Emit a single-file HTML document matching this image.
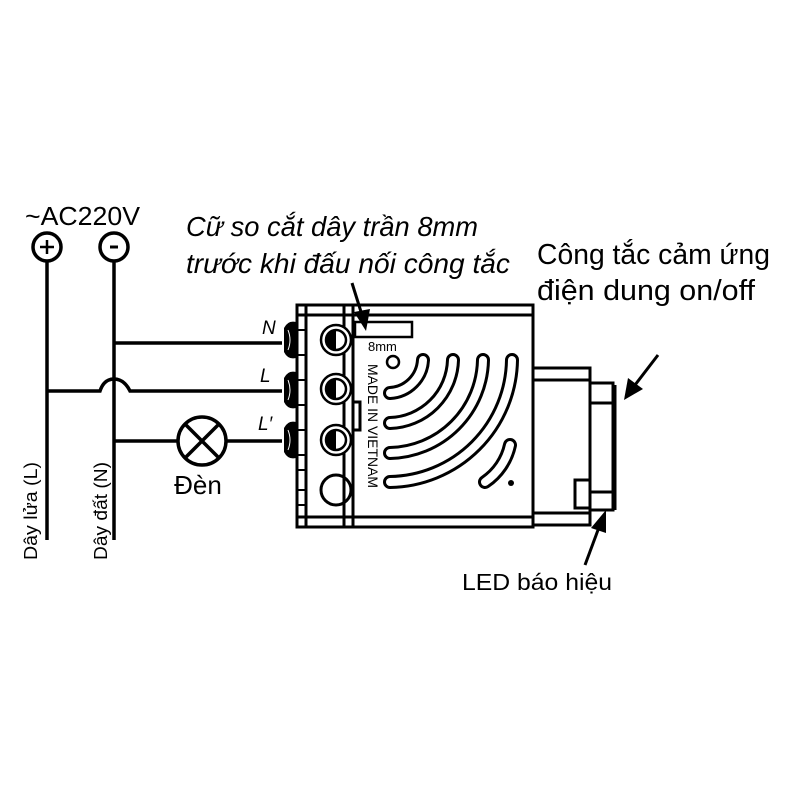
<!DOCTYPE html>
<html><head><meta charset="utf-8"><style>html,body{margin:0;padding:0;background:#fff}svg{display:block}</style></head><body>
<svg width="800" height="800" viewBox="0 0 800 800" xmlns="http://www.w3.org/2000/svg" font-family="Liberation Sans, sans-serif">
<rect width="800" height="800" fill="#fff"/>
<g fill="none" stroke="#000" stroke-width="3.5">
<circle cx="47" cy="247" r="14"/><circle cx="114" cy="247" r="14"/>
<line x1="47" y1="261" x2="47" y2="540"/><line x1="114" y1="261" x2="114" y2="540"/>
<line x1="114" y1="343" x2="282" y2="343"/>
<path d="M47 391 H100 Q104 379 114 379 Q124 379 130 391 H282"/>
<line x1="114" y1="441" x2="178" y2="441"/>
<line x1="226" y1="441" x2="282" y2="441"/>
<circle cx="202" cy="441" r="24"/>
<line x1="185" y1="424" x2="219" y2="458"/><line x1="219" y1="424" x2="185" y2="458"/>
</g>
<path d="M40 247h14M47 240v14" stroke="#000" stroke-width="2.5"/>
<path d="M110 247h8" stroke="#000" stroke-width="3"/>
<g lengthAdjust="spacingAndGlyphs">
<text x="25" y="225" font-size="26" textLength="115" lengthAdjust="spacingAndGlyphs">~AC220V</text>
<text x="198" y="494" font-size="26" text-anchor="middle">Đèn</text>
<text transform="translate(37,560) rotate(-90)" font-size="18" textLength="98" lengthAdjust="spacingAndGlyphs">Dây lửa (L)</text>
<text transform="translate(107,560) rotate(-90)" font-size="18" textLength="98" lengthAdjust="spacingAndGlyphs">Dây đất (N)</text>
<text x="262" y="334" font-size="19" font-style="italic">N</text>
<text x="260" y="382" font-size="19" font-style="italic">L</text>
<text x="258" y="430" font-size="19" font-style="italic">L′</text>
<text x="186" y="236" font-size="28" font-style="italic" textLength="292" lengthAdjust="spacingAndGlyphs">Cữ so cắt dây trần 8mm</text>
<text x="186" y="273" font-size="28" font-style="italic" textLength="324" lengthAdjust="spacingAndGlyphs">trước khi đấu nối công tắc</text>
<text x="537" y="264" font-size="29" textLength="233" lengthAdjust="spacingAndGlyphs">Công tắc cảm ứng</text>
<text x="537" y="300" font-size="29" textLength="218" lengthAdjust="spacingAndGlyphs">điện dung on/off</text>
<text x="462" y="590" font-size="23" textLength="150" lengthAdjust="spacingAndGlyphs">LED báo hiệu</text>
</g>
<g fill="#000">
<path d="M284 328 Q288 320 296 322 L302 330 V350 L296 358 Q288 360 284 352 Z"/>
<path d="M284 378 Q288 370 296 372 L302 380 V400 L296 408 Q288 410 284 402 Z"/>
<path d="M284 428 Q288 420 296 422 L302 430 V450 L296 458 Q288 460 284 452 Z"/>
</g>
<g fill="none" stroke="#fff" stroke-width="1">
<path d="M288 330 Q292 340 288 350M288 380 Q292 390 288 400M288 430 Q292 440 288 450"/>
</g>
<g fill="none" stroke="#000" stroke-width="3">
<rect x="297" y="305" width="236" height="222" fill="#fff"/>
<line x1="297" y1="315" x2="533" y2="315"/><line x1="297" y1="517" x2="533" y2="517"/>
<line x1="306" y1="305" x2="306" y2="527"/>
<line x1="344" y1="305" x2="344" y2="527"/>
<line x1="353" y1="305" x2="353" y2="527"/>
<rect x="353" y="402" width="7" height="28"/>
<rect x="355" y="322" width="57" height="15" stroke-width="2.5"/>
<circle cx="393" cy="362" r="6" stroke-width="2.5"/>
<circle cx="336" cy="490" r="15"/>
</g>
<g fill="none" stroke="#000" stroke-width="2">
<path d="M297 330h9M297 355h9M297 380h9M297 405h9M297 430h9M297 455h9M297 470h9M297 490h9M297 505h9"/>
</g>
<g>
<circle cx="336" cy="340" r="15" fill="#fff" stroke="#000" stroke-width="2.5"/>
<circle cx="336" cy="340" r="10" fill="#fff" stroke="#000" stroke-width="2.5"/>
<path d="M336 330 A10 10 0 0 0 336 350 Z" fill="#000"/>
<circle cx="336" cy="389" r="15" fill="#fff" stroke="#000" stroke-width="2.5"/>
<circle cx="336" cy="389" r="10" fill="#fff" stroke="#000" stroke-width="2.5"/>
<path d="M336 379 A10 10 0 0 0 336 399 Z" fill="#000"/>
<circle cx="336" cy="440" r="15" fill="#fff" stroke="#000" stroke-width="2.5"/>
<circle cx="336" cy="440" r="10" fill="#fff" stroke="#000" stroke-width="2.5"/>
<path d="M336 430 A10 10 0 0 0 336 450 Z" fill="#000"/>
</g>
<text x="368" y="351" font-size="13">8mm</text>
<text transform="translate(368,364) rotate(90)" font-size="14" textLength="124" lengthAdjust="spacingAndGlyphs">MADE IN VIETNAM</text>
<g fill="none" stroke-linecap="round">
<g stroke="#000" stroke-width="14">
<path d="M390 393 A35 35 0 0 0 423 360"/>
<path d="M390 423 A65 65 0 0 0 453 360"/>
<path d="M390 453 A95 95 0 0 0 483 360"/>
<path d="M390 482 A124 124 0 0 0 512 360"/>
<path d="M485 482 A60 60 0 0 0 510 445"/>
</g>
<g stroke="#fff" stroke-width="8">
<path d="M390 393 A35 35 0 0 0 423 360"/>
<path d="M390 423 A65 65 0 0 0 453 360"/>
<path d="M390 453 A95 95 0 0 0 483 360"/>
<path d="M390 482 A124 124 0 0 0 512 360"/>
<path d="M485 482 A60 60 0 0 0 510 445"/>
</g>
</g>
<circle cx="511" cy="483" r="3" fill="#000"/>
<g fill="#fff" stroke="#000" stroke-width="3">
<rect x="533" y="368" width="57" height="157"/>
<line x1="533" y1="380" x2="590" y2="380"/><line x1="533" y1="513" x2="590" y2="513"/>
<rect x="590" y="383" width="23" height="127"/>
<line x1="590" y1="403" x2="613" y2="403"/><line x1="590" y1="492" x2="613" y2="492"/>
<rect x="575" y="480" width="15" height="28"/>
</g>
<line x1="614" y1="385" x2="614" y2="510" stroke="#000" stroke-width="5"/>
<g stroke="#000" stroke-width="3">
<line x1="352" y1="283" x2="362" y2="315"/>
<line x1="658" y1="355" x2="635" y2="385"/>
<line x1="585" y1="565" x2="598" y2="530"/>
</g>
<g fill="#000">
<polygon points="366,331 354,312 370,309"/>
<polygon points="624,400 628,378 643,389"/>
<polygon points="606,510 591,528 606,533"/>
</g>
</svg>
</body></html>
